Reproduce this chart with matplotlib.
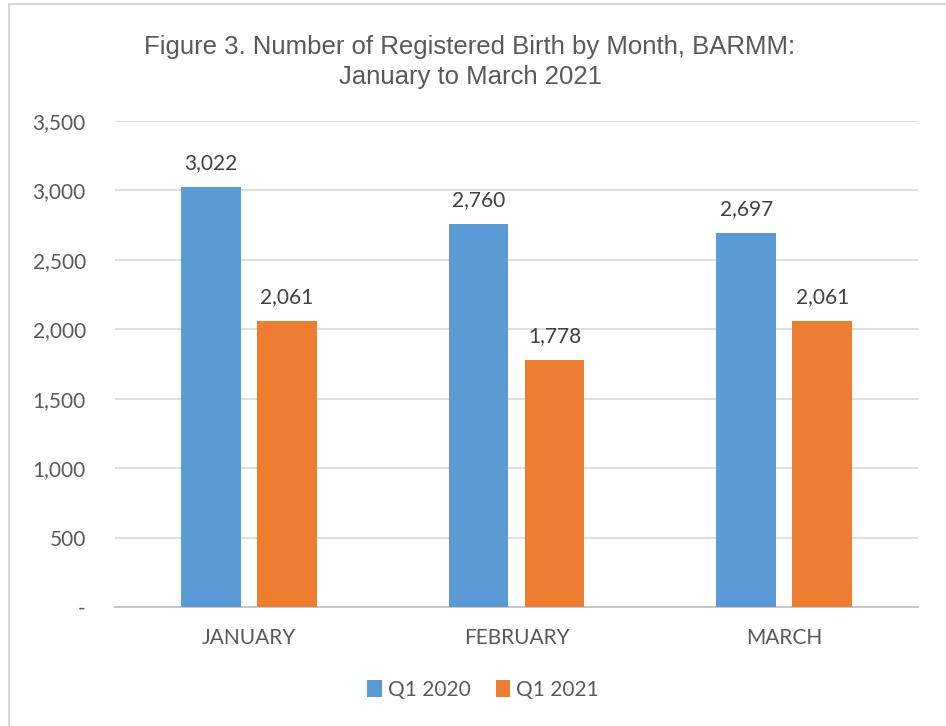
import matplotlib.pyplot as plt
import numpy as np
from matplotlib.patches import Rectangle
from matplotlib.ticker import FuncFormatter

months = ['JANUARY', 'FEBRUARY', 'MARCH']
q1_2020 = [3022, 2760, 2697]
q1_2021 = [2061, 1778, 2061]
series_names = ['Q1 2020', 'Q1 2021']
colors = ['#5B9BD5', '#ED7D31']
text_color = '#595959'

fig = plt.figure(figsize=(9.46, 7.26), dpi=100)
ax = fig.add_axes([115 / 946, 1 - 607 / 726, (918 - 115) / 946, (607 - 121) / 726])

# chart border
fig.patches.append(Rectangle((9 / 946, -0.05), 1.0, 1 - 4 / 726 + 0.05, transform=fig.transFigure,
                             fill=False, edgecolor='#d9d9d9', linewidth=1.5))

x = np.arange(len(months))
w = 0.224
off = 0.142
b1 = ax.bar(x - off, q1_2020, w, color=colors[0], label=series_names[0], zorder=3)
b2 = ax.bar(x + off, q1_2021, w, color=colors[1], label=series_names[1], zorder=3)

for bars in (b1, b2):
    for r in bars:
        ax.annotate(f'{int(r.get_height()):,}', (r.get_x() + r.get_width() / 2, r.get_height()),
                    xytext=(0, 10), textcoords='offset points', ha='center', va='bottom',
                    fontsize=15, family='Lato', color='#404040')

ax.set_xlim(-0.5, 2.5)
ax.set_ylim(0, 3500)
ax.set_yticks(range(0, 3501, 500))
ax.yaxis.set_major_formatter(FuncFormatter(lambda v, p: '-' if v == 0 else f'{int(v):,}'))
ax.set_xticks(x)
ax.set_xticklabels(months)
ax.grid(axis='y', color='#d9d9d9', linewidth=1.2, zorder=0)
for s in ['top', 'right', 'left']:
    ax.spines[s].set_visible(False)
ax.spines['bottom'].set_color('#bfbfbf')
ax.spines['bottom'].set_linewidth(1.2)
ax.tick_params(axis='both', length=0, labelsize=15, labelcolor=text_color)
ax.tick_params(axis='y', pad=21)
ax.tick_params(axis='x', pad=15)
for lbl in ax.get_xticklabels() + ax.get_yticklabels():
    lbl.set_family('Lato')

fig.text(470 / 946, 1 - 62 / 726, 'Figure 3. Number of Registered Birth by Month, BARMM:\nJanuary to March 2021',
         ha='center', va='center', fontsize=18.5, family='Liberation Sans', color=text_color, linespacing=1.3)

fig.legend(loc='center', bbox_to_anchor=(483 / 946, 1 - 690 / 726), ncol=2, frameon=False,
           prop={'family': 'Lato', 'size': 15}, labelcolor=text_color, handlelength=0.7,
           handleheight=0.9, handletextpad=0.3, columnspacing=1.2)

fig.savefig('out.png', dpi=100)
